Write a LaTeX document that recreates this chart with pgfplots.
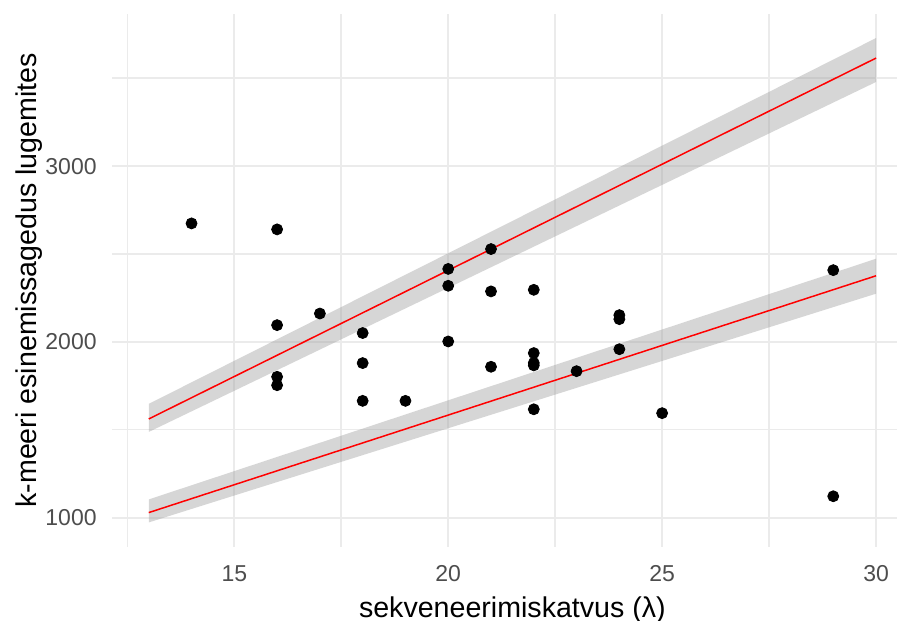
\documentclass[border=0pt]{standalone}
\usepackage{fontspec}
\setmainfont{Liberation Sans}
\usepackage{pgfplots}
\pgfplotsset{compat=1.18}
\definecolor{gridc}{HTML}{EBEBEB}
\definecolor{tickc}{HTML}{4D4D4D}
\definecolor{bandc}{HTML}{999999}
\begin{document}
\begin{tikzpicture}
\begin{axis}[
 at={(0,0)}, anchor=south west,
 scale only axis, width=400pt, height=266.25pt,
 xmin=12.15, xmax=30.85, ymin=835, ymax=3866,
 axis line style={draw=none},
 tick style={draw=none},
 xtick={15,20,25,30}, minor xtick={12.5,17.5,22.5,27.5},
 ytick={1000,2000,3000}, minor ytick={1500,2500,3500},
 grid=both,
 major grid style={draw=gridc, line width=1pt},
 minor grid style={draw=gridc, line width=0.8pt},
 /pgf/number format/assume math mode=true,
 /pgf/number format/1000 sep={},
 scaled ticks=false,
 ticklabel style={font=\fontsize{11.5}{13}\selectfont, text=tickc, inner sep=0pt},
 xticklabel style={anchor=north, yshift=-9.25pt},
 yticklabel style={anchor=east, xshift=-7.7pt},
 xlabel={sekveneerimiskatvus (λ)},
 ylabel={k-meeri esinemissagedus lugemites},
 every axis x label/.style={at={(axis description cs:0.5,0)}, anchor=base, yshift=-35.25pt, inner sep=0pt, font=\fontsize{14.3}{17}\selectfont},
 every axis y label/.style={at={(axis description cs:0,0.5)}, xshift=-37.7pt, rotate=90, anchor=base, inner sep=0pt, font=\fontsize{14.3}{17}\selectfont},
]
\addplot[draw=none, fill=bandc, fill opacity=0.4] coordinates {(13,1487) (30,3479) (30,3729) (13,1647)} -- cycle;
\addplot[draw=none, fill=bandc, fill opacity=0.4] coordinates {(13,972) (30,2274) (30,2473) (13,1103)} -- cycle;
\addplot[red, line width=0.75pt] coordinates {(13,1561) (30,3615)};
\addplot[red, line width=0.75pt] coordinates {(13,1028) (30,2376)};
\addplot[only marks, mark=*, mark size=2.75pt, black] coordinates {
(14,2674) (16,2640) (16,2095) (16,1801) (16,1753) (17,2161)
(18,2050) (18,1879) (18,1664) (19,1664)
(20,2415) (20,2319) (20,2002)
(21,2528) (21,2287) (21,1858)
(22,2296) (22,1936) (22,1880) (22,1866) (22,1616)
(23,1833) (24,2152) (24,2129) (24,1958) (25,1594)
(29,2408) (29,1121)
};
\end{axis}
\pgfresetboundingbox
\useasboundingbox (-56.2pt,-36.75pt) rectangle (392.3pt,273.25pt);
\end{tikzpicture}
\end{document}
